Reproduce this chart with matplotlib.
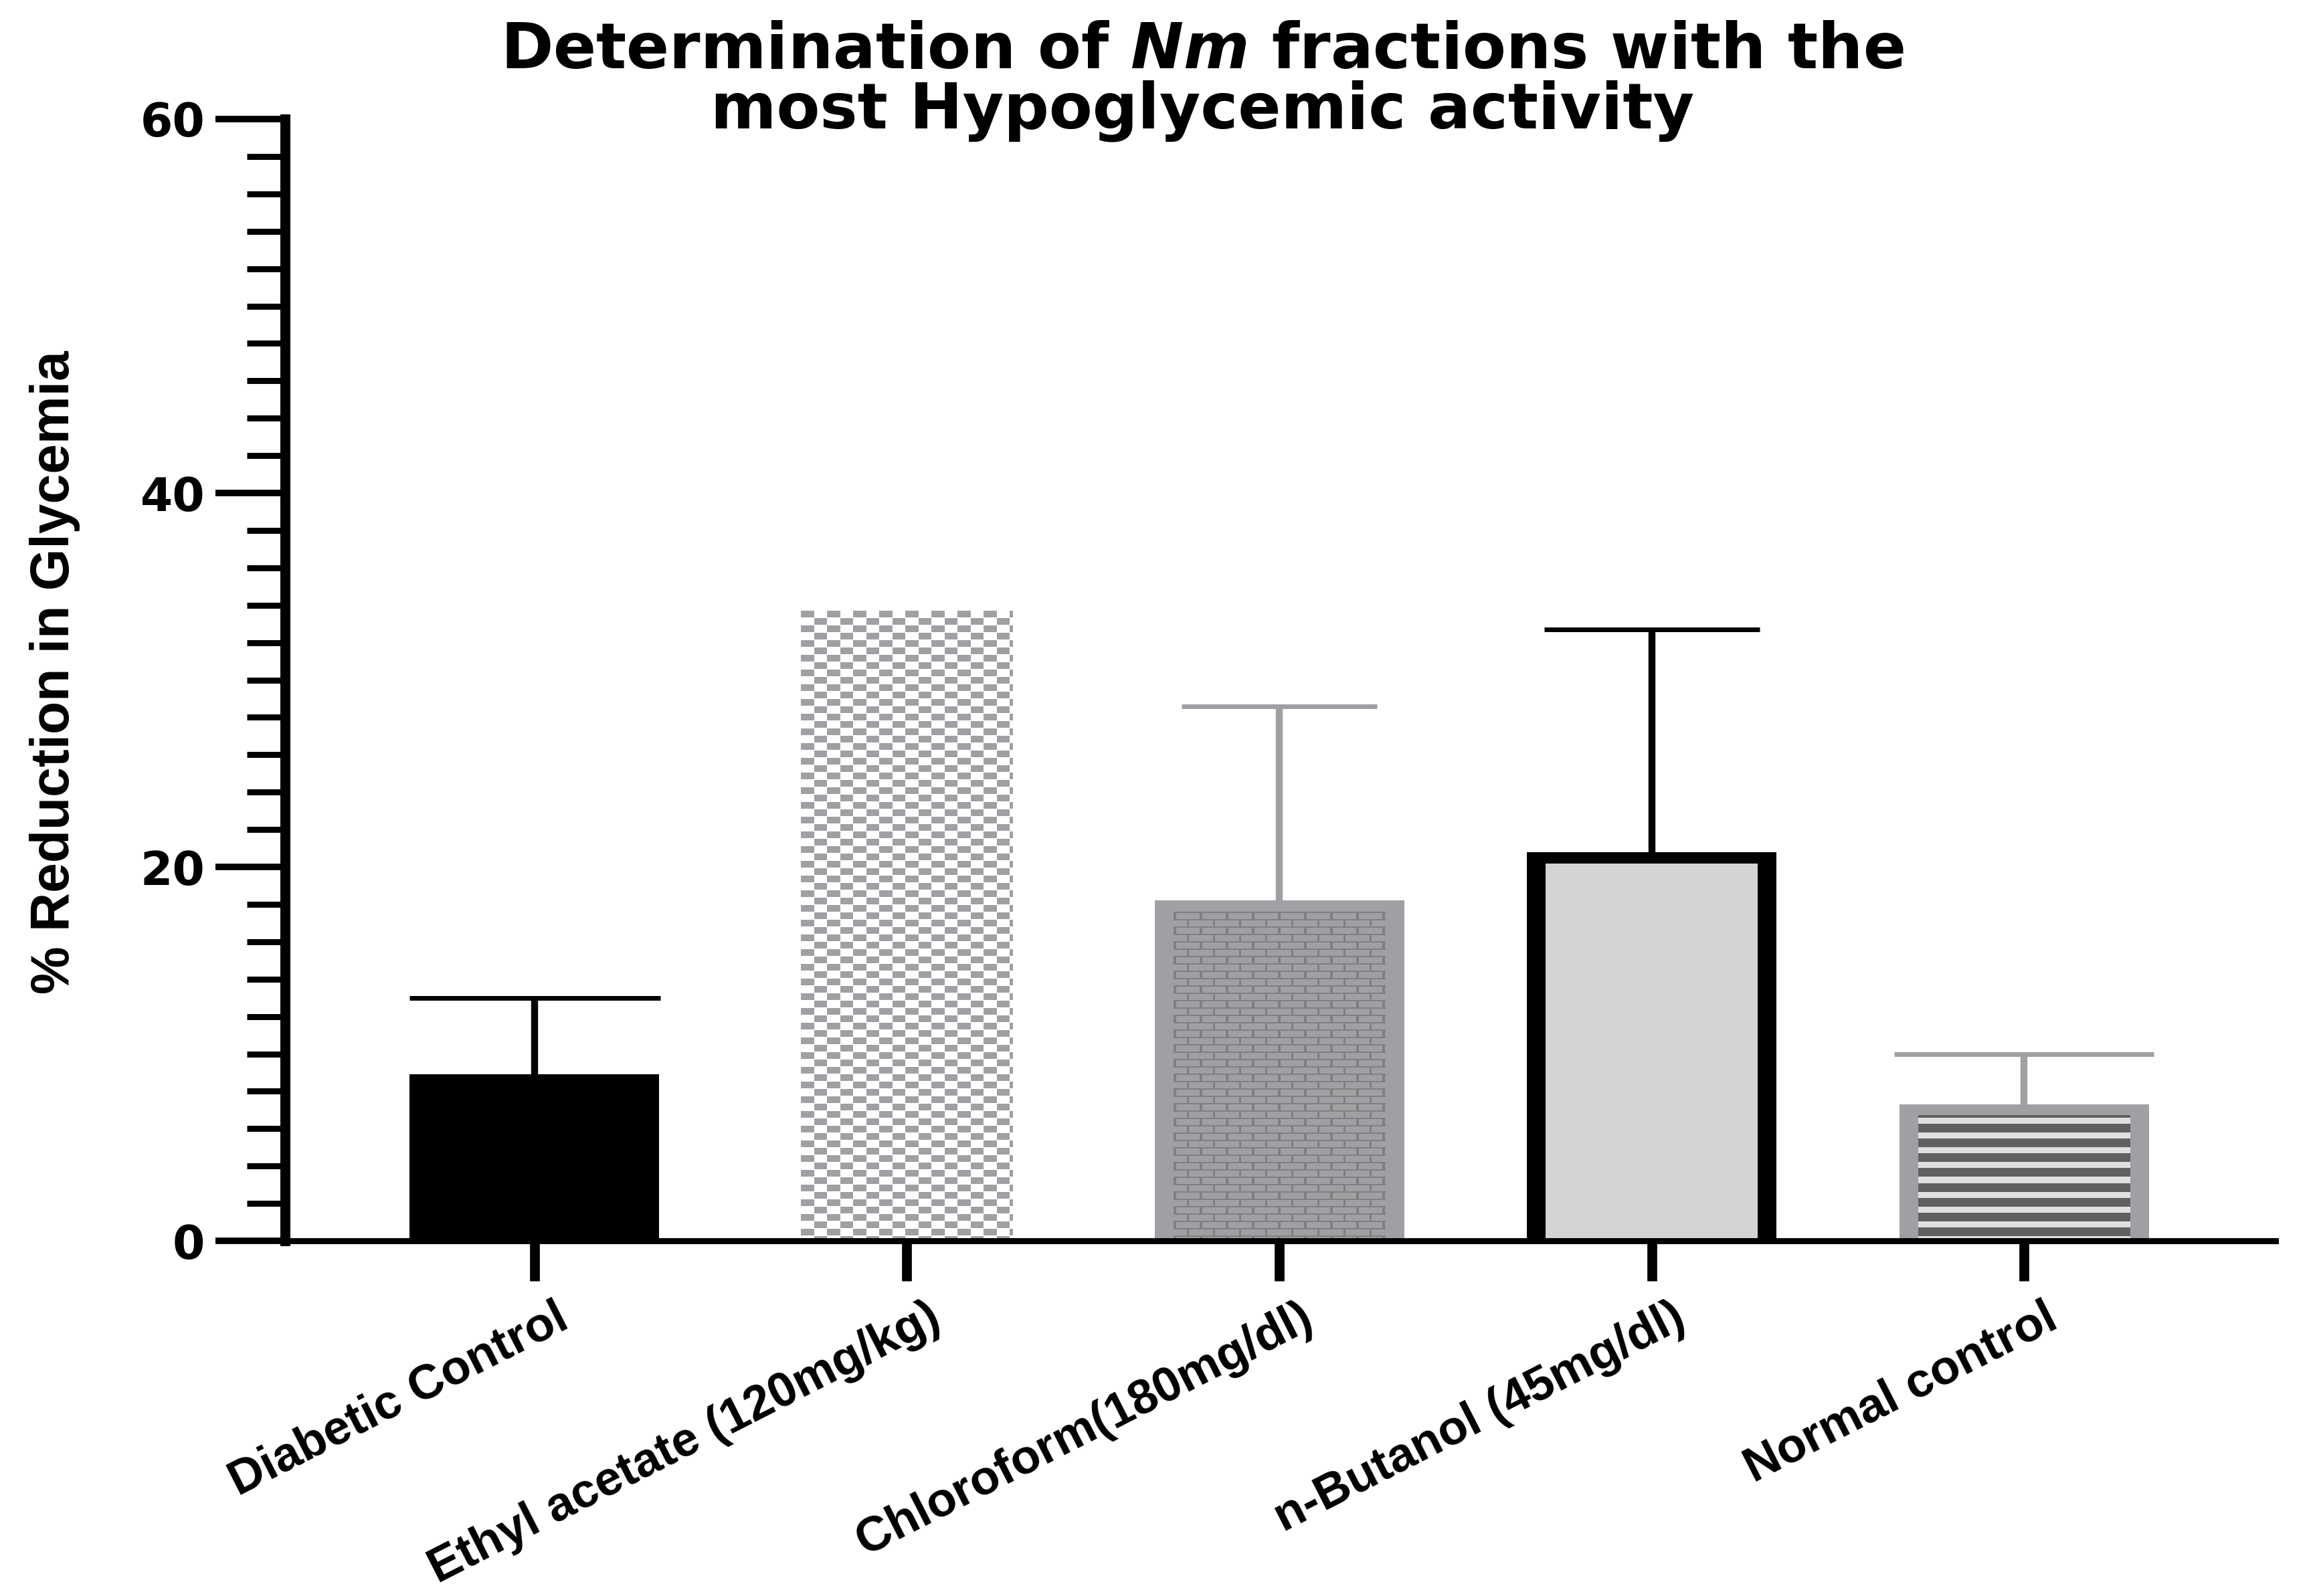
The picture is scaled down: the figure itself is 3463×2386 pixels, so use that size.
import numpy as np
import matplotlib
matplotlib.use("Agg")
import matplotlib.pyplot as plt
from matplotlib import font_manager
from matplotlib.colors import to_rgb
from matplotlib.patches import Rectangle
from matplotlib.transforms import ScaledTranslation

groups = ["Diabetic Control", "Ethyl acetate (120mg/kg)", "Chloroform(180mg/dl)",
          "n-Butanol (45mg/dl)", "Normal control"]
means = [8.9, 34.3, 18.2, 20.8, 7.3]
sem = [4.1, 0.0, 10.4, 11.9, 2.7]
yticks = [0, 20, 40, 60]

# bar looks (outer = border colour, inner = fill / texture)
outer = ["black", "white", "#a0a0a4", "black", "#a0a0a4"]
inner = ["black", "checker", "brick", "#d4d4d4", "stripes"]
err_col = ["black", "black", "#a0a0a4", "black", "#a0a0a4"]
cap_pt = [135, 0, 105, 116, 140]

plt.rcParams['mathtext.fontset'] = 'custom'
plt.rcParams['mathtext.it'] = 'DejaVu Sans:italic:bold'
plt.rcParams['mathtext.rm'] = 'DejaVu Sans:bold'

installed = {f.name for f in font_manager.fontManager.ttflist}
if 'Liberation Sans Narrow' in installed:
    ylab_font, ylab_size = 'Liberation Sans Narrow', 68
else:
    ylab_font, ylab_size = 'Liberation Sans', 58


def texture(kind, wpx, hpx):
    yy, xx = np.mgrid[0:hpx, 0:wpx]
    row = yy // 11
    if kind == "checker":
        col = ((xx + (row % 2) * 19.5) // 19.5).astype(int)
        dark = (col % 2 == 0) & (yy % 11 < 10)
        c1, c2 = to_rgb("#a0a0a4"), to_rgb("white")
    elif kind == "brick":
        dark = (yy % 11 < 2) | ((xx + (row % 2) * 19.5) % 39 < 3.3)
        c1, c2 = to_rgb("#808080"), to_rgb("#a0a0a4")
    else:
        dark = (yy + 9) % 22 < 13
        c1, c2 = to_rgb("#606060"), to_rgb("#e0e0e0")
    return np.where(dark[..., None], np.array(c1), np.array(c2))


fig = plt.figure(figsize=(34.63, 23.86), dpi=100)
ax = fig.add_axes([0.1230, 0.2225, 0.8591, 0.7029])
ax.set_xlim(-0.67, 4.675)
ax.set_ylim(0, 60)

sx = ax.transData.transform((1, 0))[0] - ax.transData.transform((0, 0))[0]
sy = ax.transData.transform((0, 1))[1] - ax.transData.transform((0, 0))[1]
bx, by = 28 / sx, 17 / sy

x = np.arange(len(groups))
bars = ax.bar(x, means, 0.67, color=outer, linewidth=0, zorder=2)

for i, b in enumerate(bars):
    fill = inner[i]
    x0 = b.get_x() + bx
    x1 = b.get_x() + b.get_width() - bx
    top = b.get_height() - by
    if fill in ("checker", "brick", "stripes"):
        wpx = int(round((x1 - x0) * sx))
        hpx = int(round(top * sy))
        ax.imshow(texture(fill, wpx, hpx), extent=[x0, x1, 0, top], origin='upper',
                  interpolation='nearest', aspect='auto', zorder=2.1)
    elif fill != outer[i]:
        ax.add_patch(Rectangle((x0, 0), x1 - x0, top, color=fill, lw=0, zorder=2.1))

for i in range(len(groups)):
    if sem[i] > 0:
        eb = ax.errorbar(x[i], means[i], yerr=[[0], [sem[i]]], fmt='none', ecolor=err_col[i],
                         elinewidth=7.5, capsize=cap_pt[i], capthick=5, zorder=1.9)
        eb[1][0].set_visible(False)   # only the upper cap

ax.set_xlim(-0.67, 4.675)
ax.set_ylim(0, 60)

ax.spines['top'].set_visible(False)
ax.spines['right'].set_visible(False)
ax.spines['left'].set_linewidth(10.8)
ax.spines['bottom'].set_linewidth(6.5)

ax.set_yticks(yticks)
ax.set_yticks(np.arange(0, 61, 2), minor=True)
ax.tick_params(axis='y', which='major', length=75, width=7, pad=11, labelsize=50)
ax.tick_params(axis='y', which='minor', length=41, width=6.5)
for lbl in ax.get_yticklabels():
    lbl.set_fontweight('bold')
    lbl.set_family('DejaVu Sans')

ax.set_xticks(x)
ax.set_xticklabels(groups, rotation=27, ha='right', va='top', rotation_mode='anchor',
                   fontsize=52, fontweight='bold', family='Liberation Sans')
ax.tick_params(axis='x', which='major', length=43, width=10.6, pad=15)
offset = ScaledTranslation(0.30, 0, fig.dpi_scale_trans)
for lbl in ax.get_xticklabels():
    lbl.set_transform(lbl.get_transform() + offset)

ax.set_ylabel('% Reduction in Glycemia', fontsize=ylab_size, fontweight='bold',
              family=ylab_font, va='center')
ax.yaxis.set_label_coords(-0.1156, 0.507)

fig.text(0.519, 1 - 121 / 2386,
         "Determination of $Nm$ fractions with the\nmost Hypoglycemic activity",
         ha='center', va='center', fontsize=68, fontweight='bold', family='DejaVu Sans',
         linespacing=0.97)

fig.savefig('out.png', dpi=100)
